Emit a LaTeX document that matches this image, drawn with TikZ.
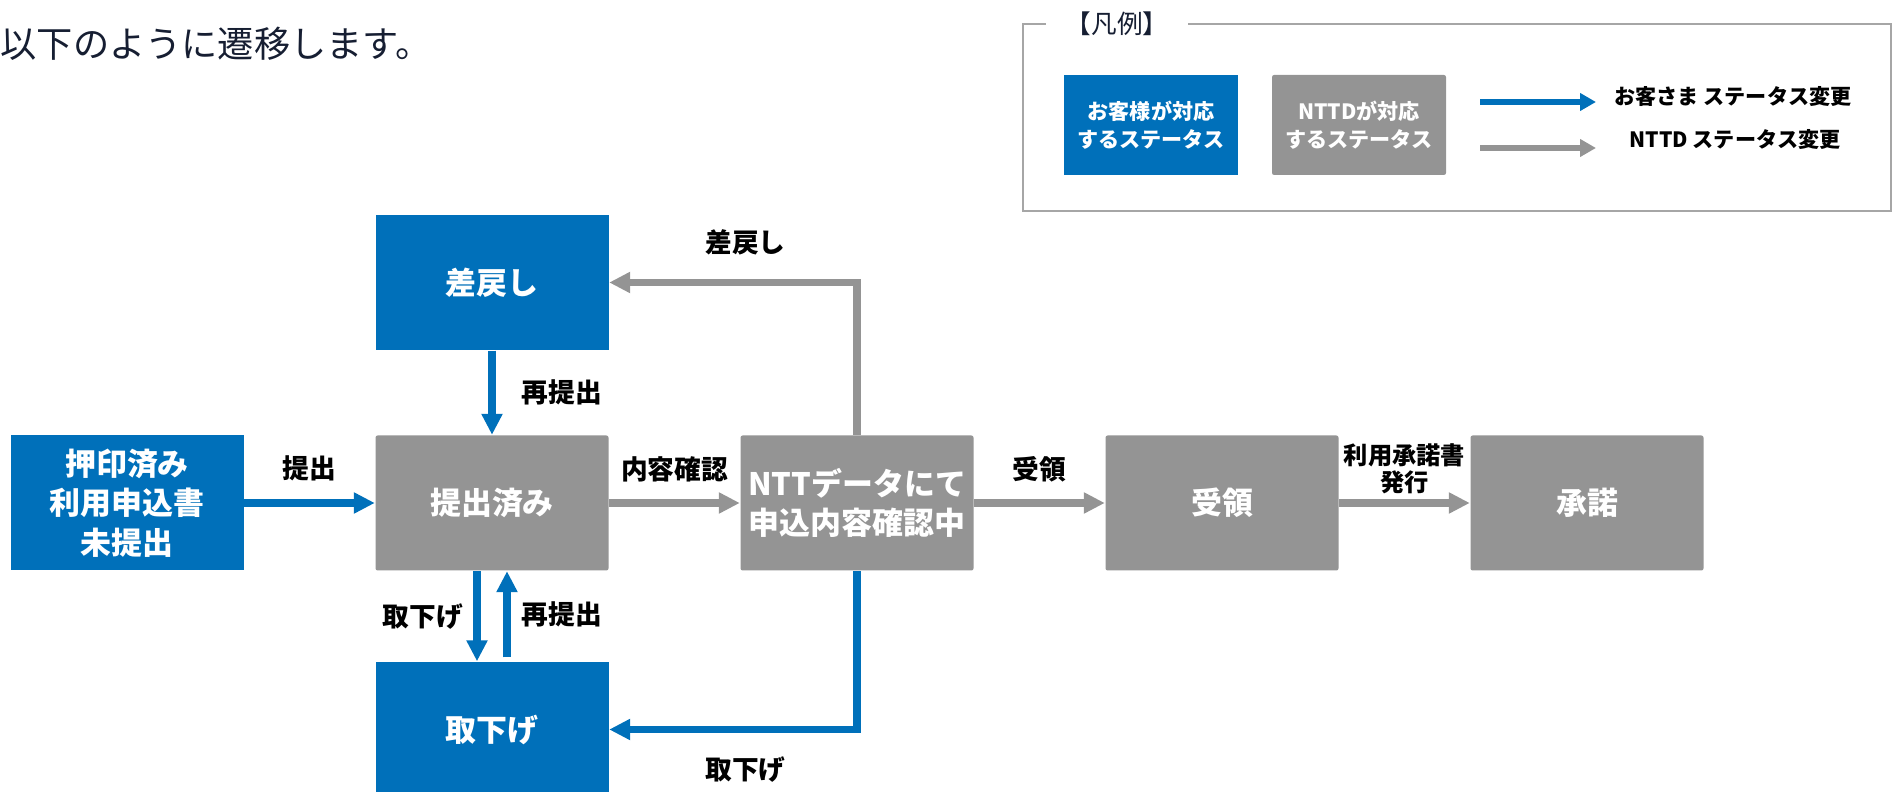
\documentclass[tikz,border=0pt]{standalone}
\usepackage{fontspec}
\setmainfont{Noto Sans CJK JP}
\usepackage{tikz}
\usetikzlibrary{arrows.meta,positioning}

\definecolor{custblue}{RGB}{0,112,186}
\definecolor{nttgray}{RGB}{148,148,148}
\definecolor{framegray}{RGB}{166,166,166}
\definecolor{titleink}{RGB}{22,30,50}

\begin{document}
\begin{tikzpicture}[
    custbox/.style={fill=custblue, text=white, align=center, inner sep=0pt,
      minimum width=2.33cm, minimum height=1.35cm,
      font=\bfseries\fontsize{8.8}{11.2}\selectfont},
    nttbox/.style={custbox, fill=nttgray, rounded corners=0.6pt},
    legbox/.style={minimum width=1.74cm, minimum height=1.0cm,
      font=\bfseries\fontsize{6}{8}\selectfont},
    custarrow/.style={color=custblue, line width=2pt,
      -{Triangle[length=0.21cm,width=0.2cm]}},
    nttarrow/.style={custarrow, color=nttgray},
    legarrow/.style={line width=1.7pt, -{Triangle[length=0.16cm,width=0.17cm]}},
    lbl/.style={text=black, font=\bfseries\fontsize{7.6}{7.7}\selectfont, align=center, inner sep=0pt},
    legtext/.style={font=\bfseries\fontsize{6}{7}\selectfont, inner sep=0pt}
  ]
  \useasboundingbox (0,0) rectangle (18.94,7.91) ;

  \node[anchor=west, inner sep=0pt, text=titleink, font=\fontsize{10.3}{12}\selectfont]
    (title) at (0.0,7.47) {以下のように遷移します。} ;

% legend
  \draw[framegray, line width=0.6pt] (10.23,5.80) rectangle (18.91,7.67) ;
  \node[fill=white, inner xsep=5.5pt, inner ysep=1pt, text=titleink, font=\fontsize{7.3}{8}\selectfont]
    (hanrei) at (11.17,7.67) {【凡例】} ;
  \node[custbox, legbox] (legcust) at (11.51,6.66) {お客様が対応\\するステータス} ;
  \node[nttbox, legbox] (legntt) at (13.59,6.66) {NTTDが対応\\するステータス} ;
  \coordinate (custfrom) at (14.80,6.89) ;
  \coordinate (custto) at (15.96,6.89) ;
  \coordinate (nttfrom) at (14.80,6.43) ;
  \coordinate (nttto) at (15.96,6.43) ;
  \draw[custarrow, legarrow] (custfrom) -- (custto) ;
  \draw[nttarrow, legarrow] (nttfrom) -- (nttto) ;
  \node[legtext] (custchange) at (17.33,6.94) {お客さま ステータス変更} ;
  \node[legtext] (nttchange) at (17.35,6.51) {NTTD ステータス変更} ;

% status boxes
  \node[custbox] (oin) at (1.27,2.88) {押印済み\\利用申込書\\未提出} ;
  \node[nttbox] (teishutsu) at (4.92,2.88) {提出済み} ;
  \node[nttbox] (kakunin) at (8.57,2.88) {NTTデータにて\\申込内容確認中} ;
  \node[nttbox] (juryo) at (12.22,2.88) {受領} ;
  \node[nttbox] (shodaku) at (15.87,2.88) {承諾} ;
  \node[custbox] (sashimodoshi) at (4.92,5.085) {差戻し} ;
  \node[custbox] (torisage) at (4.92,0.615) {取下げ} ;

% transitions
  \draw[custarrow] (oin) -- node[lbl, yshift=0.35cm] (l-teishutsu) {提出} (teishutsu) ;
  \draw[nttarrow] (teishutsu) -- node[lbl, yshift=0.34cm] (l-kakunin) {内容確認} (kakunin) ;
  \draw[nttarrow] (kakunin) -- node[lbl, yshift=0.34cm] (l-juryo) {受領} (juryo) ;
  \draw[nttarrow] (juryo) -- node[lbl, yshift=0.34cm, font=\bfseries\fontsize{6.9}{7.8}\selectfont]
    (l-shodaku) {利用承諾書\\発行} (shodaku) ;
  \draw[custarrow] (sashimodoshi) -- node[lbl, xshift=0.70cm] (l-saiteishutsu) {再提出} (teishutsu) ;
  \draw[custarrow] ([xshift=-0.15cm]teishutsu.south) --
    node[lbl, xshift=-0.54cm] (l-torisage) {取下げ} ([xshift=-0.15cm]torisage.north) ;
  \draw[custarrow] ([xshift=0.15cm,yshift=0.04cm]torisage.north) --
    node[lbl, xshift=0.55cm] (l-saiteishutsu2) {再提出} ([xshift=0.15cm]teishutsu.south) ;
  \draw[nttarrow] (kakunin) |- node[lbl, pos=0.725, yshift=0.40cm] (l-sashimodoshi) {差戻し} (sashimodoshi) ;
  \draw[custarrow] (kakunin) |- node[lbl, pos=0.725, yshift=-0.40cm] (l-torisage2) {取下げ} (torisage) ;
\end{tikzpicture}
\end{document}
